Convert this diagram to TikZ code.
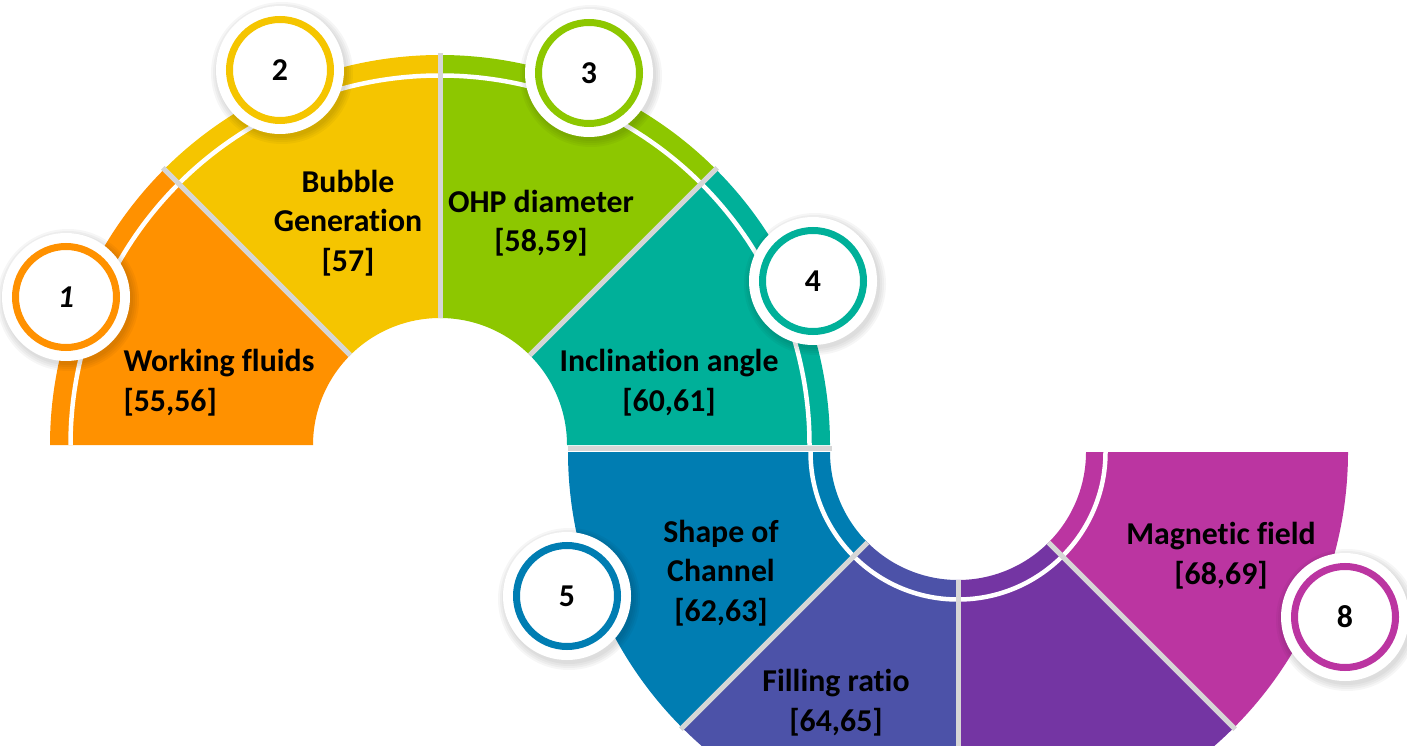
\documentclass[tikz,border=0pt]{standalone}
\usepackage{fontspec}
\setmainfont{Carlito}[Ligatures=NoCommon]
\definecolor{cOrange}{RGB}{255,145,0}
\definecolor{cYellow}{RGB}{245,197,0}
\definecolor{cGreen}{RGB}{141,199,0}
\definecolor{cTeal}{RGB}{0,176,153}
\definecolor{cBlue}{RGB}{0,125,178}
\definecolor{cIndigo}{RGB}{76,82,168}
\definecolor{cPurple}{RGB}{116,53,163}
\definecolor{cMagenta}{RGB}{187,53,161}
\definecolor{sepgray}{RGB}{214,214,214}
\begin{document}
\begin{tikzpicture}[x=1pt,y=1pt,
    sep/.style={draw=sepgray,line width=5pt},
    gap/.style={draw=white,line width=4.5pt},
    lbl/.style={font=\bfseries\fontsize{31.8}{39.5}\selectfont,align=center},
    halo/.style={circle,fill=white,minimum size=128pt,inner sep=0pt},
    num/.style={circle,draw=#1,line width=7pt,fill=white,minimum size=101pt,
      inner sep=0pt,font=\bfseries\fontsize{31.8}{35}\selectfont}]
  \useasboundingbox (0,0) rectangle (1407,745);
  \clip (0,0) rectangle (1407,745);
  \coordinate (U) at (440,300);
  \coordinate (L) at (958,293);
  \foreach \a/\c in {180/cOrange,135/cYellow,90/cGreen,45/cTeal}
    \fill[\c] ([shift={(\a:127)}]U) arc[start angle=\a,end angle=\a-45,radius=127]
      -- ([shift={({\a-45}:390)}]U) arc[start angle=\a-45,end angle=\a,radius=390] -- cycle;
  \foreach \a/\c in {180/cBlue,225/cIndigo,270/cPurple,315/cMagenta}
    \fill[\c] ([shift={(\a:128)}]L) arc[start angle=\a,end angle=\a+45,radius=128]
      -- ([shift={({\a+45}:390)}]L) arc[start angle=\a+45,end angle=\a,radius=390] -- cycle;
  \draw[gap] ([shift={(180:369.5)}]U) arc[start angle=180,end angle=0,radius=369.5];
  \draw[gap] ([shift={(180:147.5)}]L) arc[start angle=180,end angle=360,radius=147.5];
  \foreach \a in {45,90,135}
    \draw[sep] ([shift={(\a:127)}]U) -- ([shift={(\a:392)}]U);
  \foreach \a in {225,270,315}
    \draw[sep] ([shift={(\a:128)}]L) -- ([shift={(\a:392)}]L);
  \fill[sepgray] (568,294) rectangle (832,299.5);

  \node[lbl,align=left,anchor=west] (fluids) at (120,362.5) {Working fluids\\{[55,56]}};
  \node[lbl] (bubble) at (348,522) {Bubble\\Generation\\{[57]}};
  \node[lbl] (diameter) at (541,522) {OHP diameter\\{[58,59]}};
  \node[lbl] (angle) at (669,362.5) {Inclination angle\\{[60,61]}};
  \node[lbl] (channel) at (721,172) {Shape of\\Channel\\{[62,63]}};
  \node[lbl] (ratio) at (836,42.5) {Filling ratio\\{[64,65]}};
  \node[lbl] (field) at (1221,189.5) {Magnetic field\\{[68,69]}};

  \foreach \n/\x/\y/\c/\t in {1/66/448/cOrange/\itshape 1,2/280/675/cYellow/2,
      3/589/672/cGreen/3,4/813/464/cTeal/4,5/567/149/cBlue/5,8/1345/128/cMagenta/8}{
    \coordinate (s\n) at (\x+2,\y-3);
    \foreach \r in {71,69,67,65}
      \fill[black,opacity=0.035] (s\n) circle[radius=\r];
    \node[halo] (h\n) at (\x,\y) {};
    \node[num=\c] (n\n) at (h\n) {\t};
  }
\end{tikzpicture}
\end{document}
